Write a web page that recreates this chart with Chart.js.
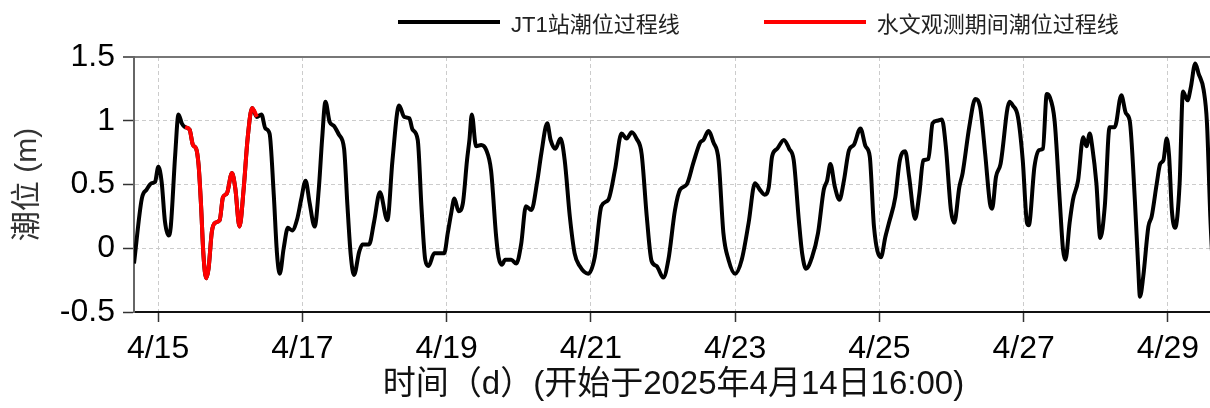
<!DOCTYPE html>
<html>
<head>
<meta charset="utf-8">
<script src="https://cdn.jsdelivr.net/npm/chart.js@4"></script>
<style>
    html, body { margin: 0; padding: 0; background: #fff; overflow: hidden; }
    #wrap { position: relative; width: 1213px; height: 408px; }
    #legend {
        position: absolute; left: 398px; top: 6px; display: flex; gap: 84px;
        font-family: 'Liberation Sans', 'Noto Sans CJK SC', sans-serif; font-size: 22px; color: #222;
    }
    #legend .item { display: flex; align-items: center; height: 32px; }
    #legend .line { width: 102px; height: 4px; margin-right: 11px; }
</style>
</head>
<body>
<div id="wrap">
    <canvas id="tideChart"></canvas>
    <div id="legend"></div>
</div>
<script>
// Thời gian tính bằng giờ kể từ 2025-04-14 16:00
const hours = [
    0, 2.6, 4.2, 5.9, 7.0, 8.1, 9.2, 10.3, 11.5, 12.2, 13.7, 14.8, 15.9, 17.0,
    18.5, 19.6, 20.7, 21.5, 22.3, 23.1, 24.0, 24.8, 25.9, 27.0, 28.5, 29.6, 30.9, 32.6,
    33.7, 35.1, 36.5, 37.8, 39.3, 40.9, 42.4, 43.7, 45.1, 46.5, 47.6, 48.5, 49.8, 51.2,
    52.6, 54.3, 55.6, 57.1, 58.4, 60.1, 61.5, 62.6, 63.7, 65.1, 66.5, 68.2, 69.9, 71.0,
    72.1, 73.2, 74.9, 76.0, 78.2, 79.9, 81.8, 84.3, 86.0, 88.2, 89.9, 91.6, 92.7, 94.4,
    95.7, 96.9, 98.0, 99.9, 101.6, 103.2, 104.4, 105.5, 106.6, 108.0, 109.4, 110.8, 111.6, 112.4,
    113.8, 115.5, 117.2, 118.8, 120.5, 121.3, 122.4, 123.5, 125.5, 127.2, 128.8, 130.4, 132.2, 134.2,
    135.5, 137.5, 138.6, 140.2, 141.9, 143.3, 145.0, 146.6, 148.3, 151.1, 153.3, 155.5, 157.8, 160.0,
    162.2, 163.9, 165.6, 167.2, 168.9, 170.6, 172.2, 173.9, 176.1, 177.8, 180.0, 181.7, 183.9, 186.1,
    188.4, 189.5, 191.1, 192.8, 194.5, 196.1, 197.8, 200.0, 202.2, 204.5, 206.6, 208.2, 209.8, 211.2,
    212.3, 214.0, 216.2, 218.0, 219.5, 221.2, 222.3, 223.6, 225.6, 227.6, 229.5, 230.6, 231.7, 233.2,
    234.7, 236.2, 237.9, 239.5, 241.7, 243.4, 244.8, 246.2, 248.5, 250.0, 251.2, 253.3, 254.8, 256.6,
    257.9, 259.9, 261.3, 262.6, 264.3, 265.7, 267.3, 268.8, 270.1, 271.8, 272.9, 274.6, 275.7, 277.9,
    279.9, 281.5, 283.2, 284.8, 285.5, 286.8, 288.3, 291.3, 292.4, 294.1, 295.7, 297.1, 297.7, 299.6,
    301.1, 302.4, 303.7, 304.6, 306.3, 308.0, 309.1, 309.9, 311.3, 312.4, 314.1, 315.8, 316.9, 318.0,
    318.8, 320.2, 321.5, 323.0, 324.6, 326.3, 328.5, 330.0, 331.3, 333.0, 334.1, 334.7, 335.8, 337.5,
    338.6, 340.3, 341.4, 342.5, 343.6, 344.4, 345.3, 346.4, 347.9, 349.0, 350.5, 351.6, 353.1, 354.2,
    355.9, 357.0, 358.1, 359.0
];

// Mực nước (m)
const levels = [
    -0.12, 0.39, 0.46, 0.51, 0.52, 0.64, 0.52, 0.21, 0.10, 0.16, 0.73, 1.05, 0.98, 0.95,
    0.93, 0.81, 0.78, 0.65, 0.34, -0.05, -0.235, -0.16, 0.13, 0.20, 0.22, 0.40, 0.43, 0.59,
    0.47, 0.17, 0.47, 0.86, 1.10, 1.03, 1.05, 0.94, 0.90, 0.42, -0.05, -0.20, 0.00, 0.16,
    0.14, 0.23, 0.38, 0.53, 0.36, 0.17, 0.47, 0.86, 1.15, 0.99, 0.96, 0.89, 0.78, 0.34,
    -0.05, -0.21, -0.03, 0.03, 0.03, 0.21, 0.44, 0.22, 0.69, 1.12, 1.03, 1.02, 0.93, 0.85,
    0.30, -0.09, -0.14, -0.04, -0.04, -0.04, 0.12, 0.27, 0.39, 0.29, 0.35, 0.69, 0.85, 1.05,
    0.80, 0.81, 0.77, 0.61, 0.09, -0.07, -0.13, -0.09, -0.09, -0.12, 0.03, 0.33, 0.30, 0.53,
    0.74, 0.98, 0.85, 0.78, 0.86, 0.69, 0.25, -0.04, -0.14, -0.20, -0.07, 0.33, 0.38, 0.61,
    0.90, 0.86, 0.91, 0.86, 0.74, 0.25, -0.10, -0.14, -0.23, -0.09, 0.30, 0.46, 0.50, 0.67,
    0.83, 0.85, 0.92, 0.83, 0.69, 0.12, -0.09, -0.20, -0.09, 0.20, 0.51, 0.46, 0.42, 0.48,
    0.72, 0.78, 0.85, 0.78, 0.69, 0.22, -0.04, -0.16, -0.07, 0.12, 0.46, 0.53, 0.66, 0.48,
    0.38, 0.53, 0.77, 0.81, 0.94, 0.80, 0.72, 0.17, -0.07, 0.09, 0.20, 0.40, 0.69, 0.76,
    0.56, 0.23, 0.43, 0.69, 0.70, 0.98, 1.00, 1.01, 0.80, 0.30, 0.20, 0.48, 0.59, 0.95,
    1.17, 1.11, 0.74, 0.35, 0.31, 0.56, 0.66, 1.15, 1.12, 1.03, 0.69, 0.20, 0.18, 0.64,
    0.77, 0.78, 1.21, 1.19, 1.00, 0.38, -0.01, -0.09, 0.20, 0.38, 0.53, 0.87, 0.80, 0.90,
    0.80, 0.51, 0.08, 0.33, 0.95, 0.95, 1.20, 1.06, 1.00, 0.38, -0.14, -0.38, -0.22, 0.17,
    0.25, 0.51, 0.66, 0.69, 0.86, 0.72, 0.30, 0.16, 0.51, 1.23, 1.16, 1.26, 1.45, 1.37,
    1.24, 0.98, 0.25, -0.18
];

// Khoảng thời gian quan trắc thủy văn (giờ)
const obsStart = 17.0;
const obsEnd = 40.9;

// Nhãn trục x
const tickHours = [8, 56, 104, 152, 200, 248, 296, 344];
const tickLabels = ['4/15', '4/17', '4/19', '4/21', '4/23', '4/25', '4/27', '4/29'];

const FONT = "'Liberation Sans', 'Noto Sans CJK SC', sans-serif";

document.addEventListener('DOMContentLoaded', function() {
    createTideChart();
});

function createTideChart() {
    const ctx = document.getElementById('tideChart');
    if (!ctx) {
        return;
    }

    const fullSeries = hours.map((h, i) => ({ x: h, y: levels[i] }));
    const obsSeries = fullSeries.filter(p => p.x >= obsStart && p.x <= obsEnd);

    const chart = new Chart(ctx, {
        type: 'line',
        data: {
            datasets: [{
                label: 'JT1站潮位过程线',
                data: fullSeries,
                borderColor: '#000000',
                backgroundColor: '#000000',
                borderWidth: 4,
                pointRadius: 0,
                cubicInterpolationMode: 'monotone',
                borderJoinStyle: 'round',
                order: 2
            }, {
                label: '水文观测期间潮位过程线',
                data: obsSeries,
                borderColor: '#ff0000',
                backgroundColor: '#ff0000',
                borderWidth: 4,
                pointRadius: 0,
                cubicInterpolationMode: 'monotone',
                borderJoinStyle: 'round',
                order: 1
            }]
        },
        options: {
            responsive: true,
            maintainAspectRatio: false,
            animation: false,
            layout: { padding: { top: 57, right: 0, bottom: 0, left: 0 } },
            plugins: {
                legend: { display: false },
                tooltip: { enabled: false }
            },
            scales: {
                x: {
                    type: 'linear',
                    min: 0,
                    max: 359,
                    afterBuildTicks: function(scale) {
                        scale.ticks = tickHours.map(v => ({ value: v }));
                    },
                    afterFit: function(scale) {
                        scale.height = 96;
                    },
                    ticks: {
                        autoSkip: false,
                        maxRotation: 0,
                        padding: 8,
                        color: '#000',
                        font: { family: FONT, size: 32 },
                        callback: function(value) {
                            const i = tickHours.indexOf(value);
                            return i >= 0 ? tickLabels[i] : '';
                        }
                    },
                    grid: {
                        color: '#cccccc',
                        lineWidth: 1,
                        tickLength: 10,
                        tickColor: '#333',
                        tickWidth: 1.5
                    },
                    border: { display: true, color: '#111', width: 2, dash: [4, 3] },
                    title: {
                        display: true,
                        text: '时间（d）(开始于2025年4月14日16:00)',
                        color: '#111',
                        font: { family: FONT, size: 33 },
                        padding: { top: 0, bottom: 3 }
                    }
                },
                y: {
                    min: -0.5,
                    max: 1.5,
                    afterFit: function(scale) {
                        scale.width = 134;
                    },
                    ticks: {
                        stepSize: 0.5,
                        padding: 8,
                        color: '#000',
                        font: { family: FONT, size: 32 },
                        callback: function(value) {
                            return String(Math.round(value * 10) / 10);
                        }
                    },
                    grid: {
                        color: function(c) {
                            return c.tick && c.tick.value === 1.5 ? '#777777' : '#cccccc';
                        },
                        lineWidth: function(c) {
                            return c.tick && c.tick.value === 1.5 ? 2 : 1;
                        },
                        tickLength: 11,
                        tickColor: '#333',
                        tickWidth: 1.5
                    },
                    border: {
                        display: true,
                        color: '#666',
                        width: 2,
                        dash: function(c) {
                            return c.tick && c.tick.value === 1.5 ? [] : [4, 3];
                        }
                    },
                    title: {
                        display: true,
                        text: '潮位 (m)',
                        color: '#333',
                        font: { family: FONT, size: 30 },
                        padding: { top: 10, bottom: 0 }
                    }
                }
            }
        }
    });

    // Chú thích HTML
    const legend = document.getElementById('legend');
    chart.data.datasets.forEach(function(ds) {
        const item = document.createElement('div');
        item.className = 'item';
        const line = document.createElement('span');
        line.className = 'line';
        line.style.background = ds.borderColor;
        const text = document.createElement('span');
        text.textContent = ds.label;
        item.appendChild(line);
        item.appendChild(text);
        legend.appendChild(item);
    });
}
</script>
</body>
</html>
